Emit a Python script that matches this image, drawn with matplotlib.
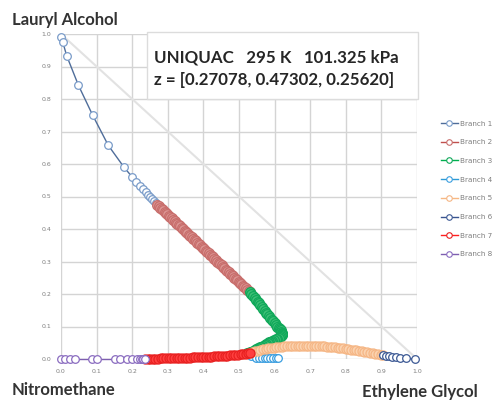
import matplotlib
matplotlib.use("Agg")
import matplotlib.pyplot as plt
from matplotlib.patches import Rectangle
from matplotlib.lines import Line2D

# ---- data (x = Ethylene Glycol, y = Lauryl Alcohol) ----
b1_x = [0.000, 0.005, 0.016, 0.049, 0.089, 0.133, 0.177, 0.200, 0.212, 0.222, 0.230, 0.238, 0.245, 0.251, 0.257, 0.262, 0.267, 0.271]
b1_y = [0.990, 0.975, 0.933, 0.842, 0.750, 0.657, 0.590, 0.560, 0.545, 0.533, 0.523, 0.514, 0.505, 0.498, 0.491, 0.485, 0.479, 0.474]

b2_x = [0.271, 0.275, 0.279, 0.283, 0.287, 0.291, 0.295, 0.299, 0.303, 0.307, 0.311, 0.315, 0.319, 0.323, 0.327, 0.331, 0.335,
        0.339, 0.343, 0.347, 0.351, 0.355, 0.359, 0.363, 0.367, 0.371, 0.375, 0.379, 0.383, 0.387, 0.391, 0.395, 0.399, 0.403,
        0.407, 0.411, 0.415, 0.419, 0.423, 0.427, 0.431, 0.435, 0.439, 0.443, 0.447, 0.451, 0.455, 0.459, 0.463, 0.467, 0.471,
        0.475, 0.479, 0.483, 0.487, 0.491, 0.495, 0.499, 0.503, 0.507, 0.511, 0.515, 0.519, 0.523, 0.527, 0.531]
b2_y = [0.474, 0.470, 0.466, 0.462, 0.457, 0.453, 0.449, 0.445, 0.441, 0.437, 0.433, 0.428, 0.424, 0.420, 0.416, 0.412, 0.408,
        0.404, 0.399, 0.395, 0.391, 0.387, 0.383, 0.379, 0.375, 0.370, 0.366, 0.362, 0.358, 0.354, 0.350, 0.346, 0.342, 0.337,
        0.333, 0.329, 0.325, 0.321, 0.317, 0.313, 0.308, 0.304, 0.300, 0.296, 0.292, 0.288, 0.284, 0.279, 0.275, 0.271, 0.267,
        0.263, 0.259, 0.255, 0.250, 0.246, 0.242, 0.238, 0.234, 0.230, 0.226, 0.221, 0.217, 0.213, 0.209, 0.205]

b3_x = [0.531, 0.535, 0.540, 0.544, 0.548, 0.552, 0.556, 0.560, 0.564, 0.568, 0.572, 0.576, 0.580, 0.584, 0.588, 0.592, 0.596,
        0.600, 0.604, 0.608, 0.611, 0.614, 0.617, 0.619, 0.621, 0.622, 0.622, 0.621, 0.619, 0.616, 0.612, 0.608, 0.603, 0.599,
        0.594, 0.590, 0.585, 0.581, 0.576, 0.572, 0.567, 0.563, 0.558, 0.554, 0.549, 0.545, 0.540, 0.536, 0.531, 0.527, 0.522]
b3_y = [0.205, 0.199, 0.193, 0.187, 0.182, 0.176, 0.171, 0.165, 0.160, 0.154, 0.149, 0.143, 0.138, 0.132, 0.127, 0.121, 0.116,
        0.110, 0.105, 0.100, 0.096, 0.092, 0.088, 0.084, 0.081, 0.078, 0.076, 0.073, 0.071, 0.068, 0.066, 0.063, 0.061, 0.058,
        0.056, 0.053, 0.051, 0.048, 0.046, 0.043, 0.041, 0.038, 0.036, 0.033, 0.031, 0.028, 0.026, 0.023, 0.021, 0.019, 0.017]

b4_x = [0.522, 0.535, 0.548, 0.556, 0.564, 0.572, 0.580, 0.588, 0.596, 0.604, 0.610]
b4_y = [0.017, 0.008, 0.004, 0.004, 0.003, 0.003, 0.003, 0.002, 0.002, 0.002, 0.002]

b5_x = [0.530, 0.5375, 0.545, 0.5525, 0.560, 0.5675, 0.575, 0.5825, 0.590, 0.5975, 0.605, 0.6125, 0.620, 0.6275, 0.635,
        0.6425, 0.650, 0.6575, 0.665, 0.6725, 0.680, 0.6875, 0.695, 0.7025, 0.710, 0.7175, 0.725, 0.7325, 0.740, 0.7475,
        0.755, 0.7625, 0.770, 0.7775, 0.785, 0.7925, 0.800, 0.8075, 0.815, 0.8225, 0.830, 0.8375, 0.845, 0.8525, 0.860,
        0.8675, 0.875, 0.8825, 0.890, 0.8975, 0.905]
b5_y = [0.020, 0.022, 0.024, 0.026, 0.028, 0.030, 0.031, 0.033, 0.034, 0.035, 0.036, 0.037, 0.038, 0.0385, 0.039,
        0.0395, 0.040, 0.0405, 0.041, 0.041, 0.041, 0.041, 0.041, 0.0405, 0.040, 0.040, 0.040, 0.0395, 0.039, 0.038,
        0.037, 0.0365, 0.036, 0.035, 0.034, 0.033, 0.032, 0.0305, 0.029, 0.028, 0.027, 0.0255, 0.024, 0.0225, 0.021,
        0.0195, 0.018, 0.0165, 0.015, 0.0135, 0.012]

b6_x = [0.905, 0.912, 0.920, 0.930, 0.941, 0.952, 0.969, 0.994]
b6_y = [0.012, 0.010, 0.008, 0.007, 0.005, 0.004, 0.002, 0.000]

b7_x = [0.236, 0.243, 0.250, 0.2575, 0.265, 0.2725, 0.280, 0.2875, 0.295, 0.3025, 0.310, 0.3175, 0.325, 0.3325, 0.340,
        0.3475, 0.355, 0.3625, 0.370, 0.3775, 0.385, 0.3925, 0.400, 0.4075, 0.415, 0.4225, 0.430, 0.4375, 0.445, 0.4525,
        0.460, 0.4675, 0.475, 0.4825, 0.490, 0.4975, 0.505, 0.5125, 0.520, 0.525, 0.530]
b7_y = [0.000, 0.0005, 0.001, 0.001, 0.001, 0.0015, 0.002, 0.002, 0.002, 0.0025, 0.003, 0.003, 0.003, 0.0035, 0.004,
        0.004, 0.004, 0.0045, 0.005, 0.0055, 0.006, 0.0065, 0.007, 0.007, 0.007, 0.0075, 0.008, 0.0085, 0.009, 0.0095,
        0.010, 0.0105, 0.011, 0.012, 0.013, 0.0135, 0.014, 0.015, 0.016, 0.017, 0.018]

b8_x = [0.000, 0.011, 0.025, 0.039, 0.086, 0.100, 0.152, 0.166, 0.185, 0.199, 0.213, 0.222, 0.227, 0.231, 0.236]
b8_y = [0.000, 0.000, 0.000, 0.000, 0.000, 0.000, 0.000, 0.000, 0.000, 0.000, 0.000, 0.000, 0.000, 0.000, 0.000]

branch_names = ["Branch 1", "Branch 2", "Branch 3", "Branch 4", "Branch 5", "Branch 6", "Branch 7", "Branch 8"]
tick_vals = [0.0, 0.1, 0.2, 0.3, 0.4, 0.5, 0.6, 0.7, 0.8, 0.9, 1.0]
title_line1 = "UNIQUAC   295 K   101.325 kPa"
title_line2 = "z = [0.27078, 0.47302, 0.25620]"

series = [(b1_x, b1_y), (b2_x, b2_y), (b3_x, b3_y), (b4_x, b4_y),
          (b5_x, b5_y), (b6_x, b6_y), (b7_x, b7_y), (b8_x, b8_y)]
line_colors = ["#4f6d9a", "#c0504d", "#00b050", "#2e9bd6", "#f7b884", "#3a5590", "#ff2020", "#7e5fb0"]
edge_colors = ["#7a9cc9", "#c86e6c", "#10a85a", "#3a9ee0", "#f5b685", "#3d5a95", "#e82020", "#8a6cc0"]
face_colors = ["white", "#dc9694", "#40c078", "white", "#fbd3b0", "white", "#ff4040", "white"]
msizes = [5.5, 7.0, 7.0, 5.5, 6.5, 5.5, 6.5, 5.5]

fig = plt.figure(figsize=(5.01, 4.01), dpi=100)
ax = fig.add_axes([61 / 501, 1 - 359 / 401, 356 / 501, 325 / 401])

ax.set_xlim(0, 1)
ax.set_ylim(0, 1)
ax.set_xticks(tick_vals)
ax.set_yticks(tick_vals)
ax.set_xticklabels([f"{v:.1f}" for v in tick_vals])
ax.set_yticklabels([f"{v:.1f}" for v in tick_vals])
ax.tick_params(labelsize=4.5, colors="#7f7f7f", length=0, pad=7)
ax.grid(True, color="#d4d4d4", linewidth=1.0)
for s in ax.spines.values():
    s.set_visible(False)
ax.set_axisbelow(True)

# diagonal
ax.plot([0, 1], [1, 0], color="#e2e2e2", linewidth=1.5, zorder=1)

# title box
ax.add_patch(Rectangle((0.242, 0.80), 0.760, 0.205, facecolor="white", edgecolor="#dcdcdc",
                       linewidth=1.0, zorder=2, clip_on=False))
ax.text(0.262, 0.929, title_line1, fontsize=12.2, fontweight="bold", family="Lato",
        color="#262626", va="center", ha="left", zorder=3)
ax.text(0.262, 0.858, title_line2, fontsize=12.2, fontweight="bold", family="Lato",
        color="#262626", va="center", ha="left", zorder=3)

handles = []
for i, (xs, ys) in enumerate(series):
    ax.plot(xs, ys, color=line_colors[i], linewidth=1.0, marker="o", markersize=msizes[i],
            markerfacecolor=face_colors[i], markeredgecolor=edge_colors[i],
            markeredgewidth=0.9, zorder=4 + i, clip_on=False)
    handles.append(Line2D([], [], color=line_colors[i], linewidth=1.0, marker="o", markersize=4,
                          markerfacecolor="white", markeredgecolor=edge_colors[i],
                          markeredgewidth=0.8))

fig.legend(handles, branch_names, loc="upper left", bbox_to_anchor=(434 / 501, 1 - 114 / 401),
           frameon=False, fontsize=5.2, labelcolor="#7f7f7f", handlelength=2.4,
           handletextpad=0.3, labelspacing=1.75)

fig.text(12 / 501, 1 - 20 / 401, "Lauryl Alcohol", fontsize=12, fontweight="bold", family="Lato",
         color="#333333", ha="left", va="center")
fig.text(12 / 501, 1 - 390 / 401, "Nitromethane", fontsize=12, fontweight="bold", family="Lato",
         color="#333333", ha="left", va="center")
fig.text(478 / 501, 1 - 392 / 401, "Ethylene Glycol", fontsize=12, fontweight="bold", family="Lato",
         color="#333333", ha="right", va="center")

fig.savefig("out.png", dpi=100)
